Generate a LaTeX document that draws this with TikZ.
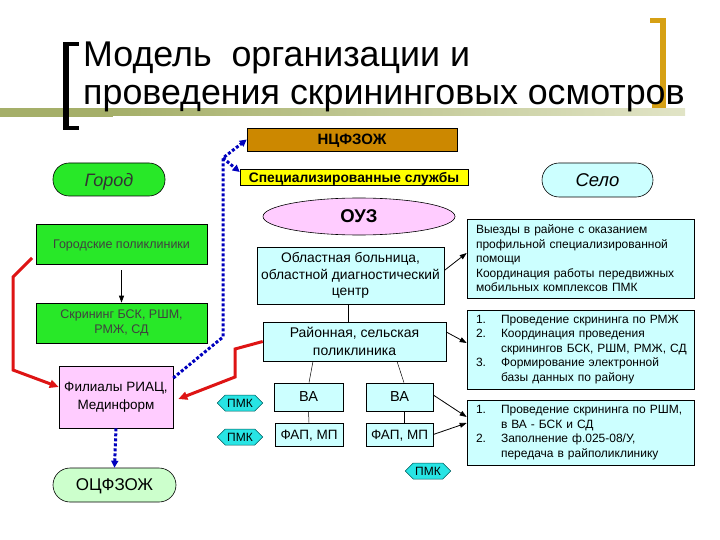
\documentclass[tikz,border=0pt]{standalone}
\usepackage{fontspec}
\setmainfont{Liberation Sans}
\usetikzlibrary{arrows.meta,shapes.geometric,shapes.symbols}
\definecolor{brownbox}{RGB}{204,136,0}
\definecolor{ylw}{RGB}{255,255,0}
\definecolor{pinkc}{RGB}{255,204,255}
\definecolor{cyanl}{RGB}{204,255,255}
\definecolor{greenb}{RGB}{40,232,40}
\definecolor{greenl}{RGB}{204,255,204}
\definecolor{pmkc}{RGB}{40,228,228}
\definecolor{goldb}{RGB}{214,160,20}
\definecolor{oliveD}{RGB}{165,175,105}
\definecolor{oliveL}{RGB}{205,210,160}
\definecolor{redl}{RGB}{222,20,20}
\definecolor{bluel}{RGB}{0,0,190}
\tikzset{
  box/.style={draw=black, line width=0.6pt, inner sep=0pt, align=center},
  one/.style={text depth=0pt},
  txt/.style={fill=cyanl, draw=black, line width=0.6pt, inner xsep=9pt, inner ysep=0pt, text width=209pt, align=left, minimum height=#1},
  pmk/.style={signal, signal to=west and east, fill=pmkc, draw=teal!70!black, line width=0.5pt, minimum width=45pt, minimum height=16pt, inner xsep=2pt, inner ysep=0pt, text depth=0pt, font=\fontsize{12}{12}\selectfont},
  arr/.style={line width=0.8pt, -{Triangle[length=7pt,width=5pt]}},
  thin/.style={line width=0.5pt},
  redline/.style={draw=redl, line width=3pt, line join=miter, -{Triangle[length=9pt,width=8pt]}},
  bluedot/.style={draw=bluel, line width=3pt, dash pattern=on 3pt off 2pt, -{Triangle[length=7pt,width=7pt]}}
}
\begin{document}
\begin{tikzpicture}[x=1pt,y=-1pt]
\useasboundingbox (0,0) rectangle (720,540);
% title decoration
\shade[left color=oliveD, right color=oliveL!60] (113,109) rectangle (685,116);
\fill[oliveD] (0,108) rectangle (113,117);
\fill[black] (63,42) rectangle (69,130);
\fill[black] (63,42) rectangle (79,46);
\fill[black] (63,126) rectangle (79,130);
\fill[goldb] (660,18) rectangle (666,108);
\fill[goldb] (650,18) rectangle (666,23);
\fill[goldb] (652,103) rectangle (666,108);
\node[anchor=base west, inner sep=0pt, font=\fontsize{35.8}{40}\selectfont] (t1) at (83,67) {Модель\ \ организации и};
\node[anchor=base west, inner sep=0pt, font=\fontsize{35.8}{40}\selectfont] (t2) at (83,105) {проведения скрининговых осмотров};

% center column
\node[box, one, fill=brownbox, minimum width=210pt, minimum height=23pt, font=\bfseries\fontsize{15}{15}\selectfont] (ncf) at (352,139.5) {НЦФЗОЖ};
\node[box, one, fill=ylw, minimum width=228pt, minimum height=16pt, font=\bfseries\fontsize{13.8}{14}\selectfont] (spec) at (354,177.5) {Специализированные службы};
\node[ellipse, one, draw=black, line width=0.6pt, fill=pinkc, minimum width=192pt, minimum height=37pt, inner sep=0pt, font=\bfseries\fontsize{18.5}{18.5}\selectfont] (ouz) at (359,216.5) {ОУЗ};
\node[box, fill=cyanl, minimum width=187pt, minimum height=57pt, font=\fontsize{13.8}{16.7}\selectfont] (obl) at (350.5,275.5) {Областная больница,\\областной диагностический\\центр};
\node[box, fill=cyanl, minimum width=183pt, minimum height=39pt, font=\fontsize{14}{17.5}\selectfont] (ray) at (354.5,341.5) {Районная, сельская\\поликлиника};
\node[box, one, fill=cyanl, minimum width=69pt, minimum height=28pt, font=\fontsize{14.5}{14.5}\selectfont] (baL) at (308.5,397) {ВА};
\node[box, one, fill=cyanl, minimum width=68pt, minimum height=23pt, font=\fontsize{13.5}{14}\selectfont] (fapL) at (309,434.5) {ФАП, МП};
\node[box, one, fill=cyanl, minimum width=67pt, minimum height=28pt, font=\fontsize{14.5}{14.5}\selectfont] (baR) at (399.5,397) {ВА};
\node[box, one, fill=cyanl, minimum width=67pt, minimum height=23pt, font=\fontsize{13.5}{14}\selectfont] (fapR) at (399.5,434.5) {ФАП, МП};
\node[pmk] (pmk1) at (240,403) {ПМК};
\node[pmk] (pmk2) at (240,437) {ПМК};
\node[pmk] (pmk3) at (428,471) {ПМК};

% right column
\node[box, one, rounded corners=17pt, fill=cyanl, minimum width=111pt, minimum height=34pt, font=\itshape\fontsize{18.5}{18.5}\selectfont] (selo) at (597.5,180) {Село};
\node[txt=79pt, font=\fontsize{12}{14.5}\selectfont] (vy) at (580.5,258.5) {Выезды в районе с оказанием\\профильной специализированной\\помощи\\Координация работы передвижных\\мобильных комплексов ПМК};
\node[txt=79pt, font=\fontsize{12}{14.5}\selectfont] (b2) at (580.5,349.5) {\begin{tabular}{@{}p{25pt}@{}l@{}}1. & Проведение скрининга по РМЖ\\2. & Координация проведения\\ & скринингов БСК, РШМ, РМЖ, СД\\3. & Формирование электронной\\ & базы данных по району\end{tabular}};
\node[txt=65pt, font=\fontsize{12}{14.5}\selectfont] (b3) at (580.5,432.5) {\begin{tabular}{@{}p{25pt}@{}l@{}}1. & Проведение скрининга по РШМ,\\ & в ВА - БСК и СД\\2. & Заполнение ф.025-08/У,\\ & передача в райполиклинику\end{tabular}};

% left column
\node[box, one, rounded corners=16pt, fill=greenb, minimum width=112pt, minimum height=33pt, font=\itshape\fontsize{18}{18}\selectfont, text=black!80] (gor) at (109,179.5) {Город};
\node[box, one, fill=greenb, minimum width=171pt, minimum height=40pt, font=\fontsize{12.5}{15.5}\selectfont, text=black!75] (gpol) at (121.5,244) {Городские поликлиники};
\node[box, fill=greenb, minimum width=171pt, minimum height=40pt, font=\fontsize{12.5}{15.5}\selectfont, text=black!75] (skr) at (121.5,323) {Скрининг БСК, РШМ,\\РМЖ, СД};
\node[box, fill=pinkc, minimum width=114pt, minimum height=62pt, font=\fontsize{13.5}{18}\selectfont] (fil) at (116,397) {Филиалы РИАЦ,\\Мединформ};
\node[box, one, rounded corners=17pt, fill=greenl, minimum width=123pt, minimum height=34pt, font=\fontsize{17}{17}\selectfont] (ocf) at (114.5,485) {ОЦФЗОЖ};

% connectors
\draw[arr] ([yshift=-6pt]gpol.south) -- (skr.north);
\draw[thin] (obl.south -| 348,0) -- (ray.north -| 348,0);
\draw[thin] ([xshift=-41.5pt]ray.south) -- ([xshift=0.5pt]baL.north);
\draw[thin] ([xshift=42.5pt]ray.south) -- ([xshift=4.5pt]baR.north);
\draw[thin] (baL.south) -- (fapL.north);
\draw[thin] ([xshift=5pt]baR.south) -- ([xshift=5pt]fapR.north);
\draw[arr] ([yshift=5pt]obl.east) -- ([yshift=5.5pt]vy.west);
\draw[arr] ([yshift=9.5pt]ray.east) -- ([yshift=6.5pt]b2.west);
\draw[arr] ([yshift=2pt]baR.east) -- ([yshift=15.5pt]b3.west);
\draw[arr] (fapR.east) -- ([yshift=9.5pt]b3.west);

\coordinate (r1) at (32,258);
\draw[redline] (r1) -- (13,277) -- (13,370) -- ([yshift=10pt]fil.west);
\draw[redline] (ray.west) -- (235,349) -- (235,377) -- ([xshift=5pt,yshift=-2pt]fil.east);

\coordinate (bt) at (223,158);
\draw[bluedot] ([yshift=19pt]fil.east) -- (223,337) -- (bt) -- (ncf.west);
\draw[bluedot] (bt) -- ([yshift=5.5pt]spec.west);
\draw[bluedot] (fil.south) -- (ocf.north);
\end{tikzpicture}
\end{document}
